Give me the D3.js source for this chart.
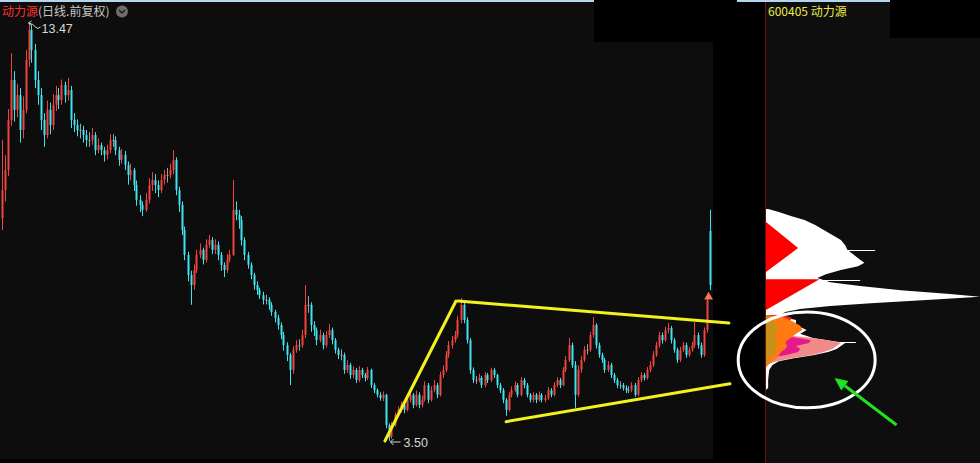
<!DOCTYPE html>
<html><head><meta charset="utf-8">
<script src="https://cdn.jsdelivr.net/npm/d3@7"></script>
<style>html,body{margin:0;padding:0;background:#000;overflow:hidden}</style>
</head><body><svg id="c" width="980" height="463"></svg>
<script>
const titleName = "动力源";
const titleSub = "(日线.前复权)";
const codeLabel = "600405 动力源";

const opens = [8.80,9.47,9.95,11.14,12.09,11.38,11.73,10.90,11.38,12.57,
13.28,12.80,12.09,11.73,11.14,10.78,11.38,11.02,11.50,11.73,
11.61,11.97,11.73,11.85,11.14,11.02,10.90,10.90,10.78,10.66,
10.66,10.78,10.42,10.54,10.42,10.31,10.42,10.66,10.66,10.42,
10.19,10.31,10.07,9.83,9.95,9.59,9.24,9.12,9.00,9.24,
9.59,9.71,9.59,9.47,9.71,9.83,9.83,9.95,10.19,9.47,
9.12,8.52,7.93,7.45,7.21,7.57,7.93,8.05,7.81,8.17,
8.28,8.05,8.17,7.93,7.69,7.57,7.81,7.93,9.00,8.88,
8.76,8.28,7.93,7.69,7.45,7.21,7.09,6.97,6.86,6.86,
6.74,6.57,6.43,6.26,6.02,5.78,5.55,5.19,5.67,5.78,
5.78,6.02,6.74,6.74,6.26,6.14,5.90,6.02,5.78,6.02,
6.14,5.90,5.67,5.55,5.55,5.19,5.31,5.07,5.19,4.95,
5.19,5.07,5.00,5.19,4.83,4.71,4.60,4.52,4.60,3.88,
3.60,3.88,4.12,4.24,4.36,4.24,4.48,4.60,4.36,4.60,
4.36,4.48,4.83,4.48,4.71,4.83,4.60,5.07,5.19,5.55,
5.78,5.90,6.02,6.38,6.74,6.38,5.90,5.19,4.95,4.95,
5.00,4.83,5.07,4.95,5.19,5.07,4.83,4.71,4.48,4.24,
4.60,4.71,4.83,4.60,4.95,4.83,4.60,4.48,4.60,4.48,
4.60,4.48,4.52,4.71,4.60,4.83,4.95,4.83,5.19,5.43,
5.78,5.31,4.60,5.19,5.43,5.67,5.67,6.02,6.26,5.78,
5.55,5.43,5.19,5.31,5.07,4.95,4.83,4.83,4.76,4.71,
4.71,4.83,4.60,4.95,5.07,5.00,5.19,5.31,5.55,5.78,
6.02,5.90,6.14,6.19,5.90,5.67,5.43,5.67,5.78,5.55,
5.67,5.78,6.02,5.78,5.55,6.14,8.50];

const closes = [9.47,9.95,11.14,12.09,11.38,11.73,10.90,11.38,12.57,13.28,
12.80,12.09,11.73,11.14,10.78,11.38,11.02,11.50,11.73,11.61,
11.97,11.73,11.85,11.14,11.02,10.90,10.90,10.78,10.66,10.66,
10.78,10.42,10.54,10.42,10.31,10.42,10.66,10.66,10.42,10.19,
10.31,10.07,9.83,9.95,9.59,9.24,9.12,9.00,9.24,9.59,
9.71,9.59,9.47,9.71,9.83,9.83,9.95,10.19,9.47,9.12,
8.52,7.93,7.45,7.21,7.57,7.93,8.05,7.81,8.17,8.28,
8.05,8.17,7.93,7.69,7.57,7.81,7.93,9.00,8.88,8.76,
8.28,7.93,7.69,7.45,7.21,7.09,6.97,6.86,6.86,6.74,
6.57,6.43,6.26,6.02,5.78,5.55,5.19,5.67,5.78,5.78,
6.02,6.74,6.74,6.26,6.14,5.90,6.02,5.78,6.02,6.14,
5.90,5.67,5.55,5.55,5.19,5.31,5.07,5.19,4.95,5.19,
5.07,5.00,5.19,4.83,4.71,4.60,4.52,4.60,3.88,3.60,
3.88,4.12,4.24,4.36,4.24,4.48,4.60,4.36,4.60,4.36,
4.48,4.83,4.48,4.71,4.83,4.60,5.07,5.19,5.55,5.78,
5.90,6.02,6.38,6.74,6.38,5.90,5.19,4.95,4.95,5.00,
4.83,5.07,4.95,5.19,5.07,4.83,4.71,4.48,4.24,4.60,
4.71,4.83,4.60,4.95,4.83,4.60,4.48,4.60,4.48,4.60,
4.48,4.52,4.71,4.60,4.83,4.95,4.83,5.19,5.43,5.78,
5.31,4.60,5.19,5.43,5.67,5.67,6.02,6.26,5.78,5.55,
5.43,5.19,5.31,5.07,4.95,4.83,4.83,4.76,4.71,4.71,
4.83,4.60,4.95,5.07,5.00,5.19,5.31,5.55,5.78,6.02,
5.90,6.14,6.19,5.90,5.67,5.43,5.67,5.78,5.55,5.67,
5.78,6.02,5.78,5.55,6.14,6.86,7.21];

const highs = [10.66,10.30,11.40,12.73,12.30,12.00,11.90,11.70,12.80,13.47,
13.40,12.95,12.30,11.90,11.30,11.60,11.55,11.75,11.95,11.90,
12.10,12.05,12.14,11.95,11.30,11.15,11.05,11.00,10.90,10.85,
10.95,10.85,10.70,10.60,10.50,10.55,10.80,10.80,10.75,10.50,
10.45,10.40,10.15,10.10,10.00,9.70,9.35,9.20,9.40,9.75,
9.90,9.85,9.70,9.85,9.95,10.00,10.10,10.42,10.25,9.55,
9.20,8.60,8.00,7.55,7.70,8.05,8.20,8.10,8.30,8.40,
8.35,8.30,8.25,8.00,7.75,7.95,8.05,9.71,9.20,9.00,
8.85,8.35,8.00,7.75,7.50,7.30,7.15,7.05,6.98,6.92,
6.80,6.62,6.50,6.32,6.10,5.85,5.60,5.75,5.90,5.92,
6.15,7.21,6.95,6.80,6.35,6.20,6.15,6.08,6.12,6.28,
6.20,5.95,5.72,5.68,5.60,5.42,5.36,5.28,5.24,5.28,
5.24,5.12,5.26,5.22,4.88,4.75,4.66,4.68,4.62,3.92,
3.95,4.18,4.32,4.44,4.40,4.56,4.70,4.64,4.70,4.66,
4.58,4.92,4.88,4.80,4.95,4.88,5.15,5.30,5.64,5.88,
6.00,6.12,6.48,6.90,6.80,6.44,5.95,5.25,5.05,5.10,
5.05,5.14,5.12,5.24,5.24,5.10,4.88,4.76,4.52,4.66,
4.80,4.92,4.88,5.02,5.00,4.88,4.64,4.66,4.64,4.68,
4.64,4.60,4.78,4.76,4.90,5.02,5.00,5.26,5.52,5.95,
5.84,5.40,5.30,5.52,5.76,5.80,6.10,6.45,6.30,5.84,
5.60,5.48,5.40,5.36,5.12,5.00,4.92,4.88,4.82,4.80,
4.90,4.88,5.02,5.14,5.12,5.26,5.40,5.64,5.86,6.10,
6.08,6.22,6.31,6.24,5.95,5.72,5.74,5.86,5.84,5.74,
5.86,6.33,6.08,5.84,6.20,6.95,9.00];

const lows = [8.52,9.20,9.80,11.00,11.10,11.20,10.60,10.70,11.30,12.40,
12.50,11.90,11.50,10.90,10.50,10.70,10.80,10.90,11.35,11.40,
11.50,11.55,11.60,10.95,10.85,10.75,10.70,10.60,10.50,10.50,
10.55,10.30,10.35,10.30,10.15,10.20,10.35,10.50,10.30,10.05,
10.10,9.95,9.60,9.70,9.45,9.10,8.95,8.85,8.95,9.15,
9.45,9.40,9.30,9.40,9.60,9.65,9.75,9.85,9.35,8.95,
8.40,7.80,7.30,6.74,7.10,7.50,7.85,7.70,7.75,8.10,
7.95,7.95,7.80,7.55,7.40,7.50,7.75,7.90,8.75,8.55,
8.15,7.80,7.60,7.35,7.10,6.98,6.88,6.75,6.75,6.62,
6.48,6.32,6.15,5.92,5.65,5.40,4.83,5.10,5.60,5.65,
5.72,5.95,6.55,6.10,6.00,5.78,5.85,5.68,5.72,5.95,
5.80,5.58,5.45,5.42,5.10,5.12,4.98,5.00,4.88,4.90,
5.00,4.92,4.95,4.76,4.64,4.54,4.46,4.45,3.80,3.50,
3.55,3.84,4.08,4.18,4.16,4.20,4.42,4.28,4.32,4.28,
4.30,4.44,4.40,4.44,4.66,4.52,4.56,5.00,5.14,5.48,
5.70,5.84,5.96,6.30,6.30,5.82,5.10,4.88,4.86,4.90,
4.76,4.78,4.88,4.90,5.00,4.76,4.64,4.40,4.10,4.20,
4.54,4.66,4.54,4.56,4.76,4.54,4.42,4.42,4.40,4.44,
4.42,4.42,4.48,4.54,4.56,4.78,4.76,4.80,5.14,5.38,
5.24,4.29,4.55,5.12,5.38,5.56,5.62,5.96,5.70,5.48,
5.36,5.12,5.14,5.00,4.88,4.76,4.74,4.70,4.64,4.64,
4.66,4.55,4.56,4.90,4.94,4.96,5.14,5.26,5.50,5.72,
5.82,5.86,6.06,5.82,5.60,5.36,5.38,5.62,5.48,5.50,
5.62,5.72,5.70,5.48,5.50,6.08,7.09];

// trend lines drawn on the chart: [index, price]
const trendStart = [[127.8, 3.50], [152.2, 6.83], [168.2, 3.96]];
const trendEnd   = [[151.5, 6.83], [242.5, 6.31], [242.8, 4.86]];

// signal marker
const markerIndex = 235.7, markerPrice = 6.93;

// chip distribution (price level -> relative volume)
const chipPrices = [9.02,8.95,8.85,8.76,8.64,8.52,8.40,8.28,8.16,8.05,7.93,7.81,7.74,7.66,7.57,7.47,7.38,7.28,7.19,7.09,
 7.00,6.93,6.86,6.78,6.71,6.64,6.57,6.47,6.38,6.26,6.14,6.05,5.95,5.88,5.83,5.76,5.69,5.62,5.54,5.47,5.40,5.31,5.19,4.95,4.76,4.72];
const chipVolumes = [1,6,12,18,23,27,31,35,37,38,41,44,46,43,35,28,24,30,44,63,
 86,100,77,49,30,16,9,6,14,14,19,16,22,31,37,35,33,29,22,13,6,3,1.5,1,1,0];
const chipSpikePrices = [8.05, 7.33, 5.86];
const chipSpikeVolumes = [51, 44, 42];
const redTri1 = [[8.71,0],[8.09,15],[7.52,0]];
const redTri2 = [[7.35,0],[7.35,25],[6.62,0]];
// recent-cost layers
const layerPrices = [6.50,6.43,6.33,6.24,6.14,6.05,5.97,5.90,5.83,5.76,5.69,5.62,5.54,5.47,5.40,5.31,5.25];
const pinkVol    = [0,0,0,0,0,0,19,29,35,33,31,27,21,12,5,0,0];
const magentaVol = [0,0,0,0,0,0,13,21,20,14,16,15,9,0,0,0,0];
const redVol     = [8,12,11,6,0,0,0,0,0,0,0,0,0,0,0,0,0];
const orangeVol  = [0,9,13,16,17,14,12,10,9,10,9,7,6,5,3,1,0];
const goldVol    = [0,2,4,5,6,4,5,4,6,5,4,5,3,2,1,0,0];

// annotations (price / volume coords)
const ellipseBox = {volLeft:-13, volRight:51, priceTop:6.57, priceBottom:4.29};
const arrowFrom = [61, 3.88], arrowTo = [32, 5.00];

const N = closes.length;
const svg = d3.select("#c");
const W = 980, H = 463;

// ---- backgrounds
svg.append("rect").attr("width",W).attr("height",H).attr("fill","#000");
svg.append("rect").attr("x",0).attr("y",0).attr("width",713).attr("height",459).attr("fill","#0d0d0d");
svg.append("rect").attr("x",766).attr("y",0).attr("width",214).attr("height",463).attr("fill","#0e0e0e");
svg.append("rect").attr("x",594).attr("y",0).attr("width",143).attr("height",42).attr("fill","#000");
svg.append("rect").attr("x",890).attr("y",0).attr("width",90).attr("height",38).attr("fill","#000");
svg.append("rect").attr("x",0).attr("y",0).attr("width",594).attr("height",2).attr("fill","#b4d6ec");
svg.append("rect").attr("x",737).attr("y",0).attr("width",153).attr("height",2).attr("fill","#b4d6ec");
svg.append("line").attr("x1",765.5).attr("x2",765.5).attr("y1",2).attr("y2",463).attr("stroke","#6e1010").attr("stroke-width",1);

// ---- scales
const x = d3.scaleLinear().domain([0, N-1]).range([1.5, 709.5]);
const y = d3.scaleLinear().domain([3.50, 13.47]).range([441, 22]);
const vx = d3.scaleLinear().domain([0, 100]).range([766, 980]);

// ---- candles
const candles = svg.append("g");
const colorOf = i => closes[i] > opens[i] ? "#f04440" : (closes[i] < opens[i] ? "#3fe4ee" : "#9aa4a4");
d3.range(N).forEach(i => {
  const cx = Math.round(x(i));
  const c = colorOf(i);
  candles.append("line").attr("x1",cx+0.5).attr("x2",cx+0.5)
    .attr("y1",y(highs[i])).attr("y2",y(lows[i])).attr("stroke",c).attr("stroke-width",1);
  const top = y(Math.max(opens[i],closes[i])), bot = y(Math.min(opens[i],closes[i]));
  candles.append("rect").attr("x",cx-0.5).attr("width",2)
    .attr("y",top).attr("height",Math.max(1,bot-top)).attr("fill",c);
});

// ---- trend lines
trendStart.forEach((s,k) => {
  const e = trendEnd[k];
  svg.append("line").attr("x1",x(s[0])).attr("y1",y(s[1])).attr("x2",x(e[0])).attr("y2",y(e[1]))
    .attr("stroke","#f2f21c").attr("stroke-width",3).attr("stroke-linecap","round");
});

// ---- marker
svg.append("path").attr("d", d3.symbol().type(d3.symbolTriangle).size(34)())
  .attr("transform",`translate(${x(markerIndex)},${y(markerPrice)})`).attr("fill","#f47a4e");

// ---- extreme labels
const hiVal = d3.max(highs), loVal = d3.min(lows);
const hiI = highs.indexOf(hiVal), loI = lows.indexOf(loVal);
{
  const px = x(hiI), py = y(hiVal);
  svg.append("path").attr("d",`M${px},${py+1} L${px+3},${py-1} M${px},${py+1} L${px+3},${py+3} M${px},${py+1} Q${px+5},${py+2} ${px+7},${py+5} T${px+12},${py+5}`)
    .attr("stroke","#d8d8d8").attr("fill","none").attr("stroke-width",1);
  svg.append("text").attr("x",px+13).attr("y",py+11).attr("fill","#d8d8d8")
    .attr("font-family","Liberation Sans, Arial, sans-serif").attr("font-size",12.5).text(hiVal.toFixed(2));
}
{
  const px = x(loI), py = y(loVal);
  svg.append("path").attr("d",`M${px+2},${py+1} L${px+12},${py+1} M${px+2},${py+1} L${px+5},${py-2} M${px+2},${py+1} L${px+5},${py+4}`)
    .attr("stroke","#d8d8d8").attr("fill","none").attr("stroke-width",1);
  svg.append("text").attr("x",px+15).attr("y",py+6).attr("fill","#d8d8d8")
    .attr("font-family","Liberation Sans, Arial, sans-serif").attr("font-size",12.5).text(loVal.toFixed(2));
}

// ---- titles
const t = svg.append("text").attr("x",2).attr("y",16)
  .attr("font-family","'Noto Sans CJK SC', sans-serif").attr("font-size",12);
t.append("tspan").attr("fill","#ff3030").text(titleName);
t.append("tspan").attr("fill","#c8c8c8").text(titleSub);
svg.append("circle").attr("cx",122).attr("cy",11.5).attr("r",6).attr("fill","#6e6e6e");
svg.append("path").attr("d","M119,10 L122,13 L125,10").attr("stroke","#1a1a1a").attr("stroke-width",1.5).attr("fill","none");
svg.append("text").attr("x",768).attr("y",16).attr("fill","#eaea4a")
  .attr("font-family","'Noto Sans CJK SC', sans-serif").attr("font-size",12).text(codeLabel);

// ---- chip distribution
const chipG = svg.append("g");
const chipData = chipPrices.map((p,k)=>({p, v:chipVolumes[k]}));
const area = d3.area().y(d=>y(d.p)).x0(vx(0)).x1(d=>vx(d.v)).curve(d3.curveLinear);
chipG.append("path").attr("d",area(chipData)).attr("fill","#ffffff");
chipSpikePrices.forEach((p,k)=>{
  chipG.append("line").attr("x1",vx(0)).attr("x2",vx(chipSpikeVolumes[k])).attr("y1",Math.round(y(p))+0.5).attr("y2",Math.round(y(p))+0.5)
    .attr("stroke","#fff").attr("stroke-width",1);
});
const tri = pts => "M" + pts.map(d=>`${vx(d[1])},${y(d[0])}`).join("L") + "Z";
chipG.append("path").attr("d",tri(redTri1)).attr("fill","#ff0000");
chipG.append("path").attr("d",tri(redTri2)).attr("fill","#ff0000");
const layer = (vals, color) => {
  const d = layerPrices.map((p,k)=>({p, v:vals[k]}));
  chipG.append("path").attr("d",area(d)).attr("fill",color);
};
layer(pinkVol, "#f28a8a");
layer(magentaVol, "#e8188c");
layer(redVol, "#ff1a1a");
layer(orangeVol, "#ff7a10");
layer(goldVol, "#c89018");

// ---- ellipse annotation
const ex0 = vx(ellipseBox.volLeft), ex1 = vx(ellipseBox.volRight);
const ey0 = y(ellipseBox.priceTop), ey1 = y(ellipseBox.priceBottom);
svg.append("ellipse").attr("cx",(ex0+ex1)/2).attr("cy",(ey0+ey1)/2)
  .attr("rx",(ex1-ex0)/2).attr("ry",(ey1-ey0)/2)
  .attr("fill","none").attr("stroke","#ffffff").attr("stroke-width",3);

// ---- green arrow
{
  const x1 = vx(arrowFrom[0]), y1 = y(arrowFrom[1]), x2 = vx(arrowTo[0]), y2 = y(arrowTo[1]);
  const ang = Math.atan2(y2-y1, x2-x1);
  const L = 13, Wd = 6;
  const bx = x2 - L*Math.cos(ang), by = y2 - L*Math.sin(ang);
  svg.append("line").attr("x1",x1).attr("y1",y1).attr("x2",bx).attr("y2",by)
    .attr("stroke","#22e022").attr("stroke-width",3);
  const p1 = [bx + Wd*Math.sin(ang), by - Wd*Math.cos(ang)];
  const p2 = [bx - Wd*Math.sin(ang), by + Wd*Math.cos(ang)];
  svg.append("path").attr("d",`M${x2},${y2}L${p1[0]},${p1[1]}L${p2[0]},${p2[1]}Z`).attr("fill","#22e022");
}
</script></body></html>
